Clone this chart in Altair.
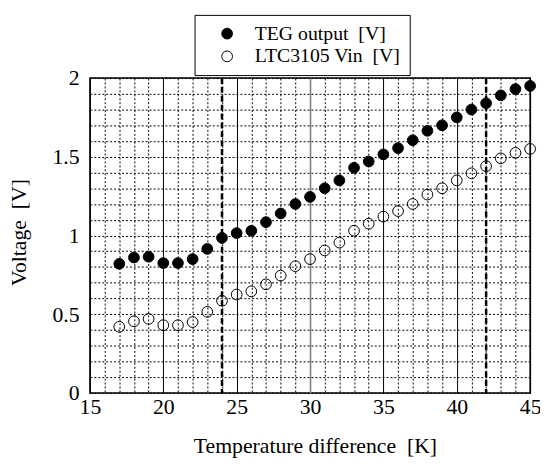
import altair as alt
import pandas as pd

# ---- data ----
dT = list(range(17, 46))
teg = [0.82, 0.86, 0.865, 0.825, 0.825, 0.85, 0.915, 0.985, 1.015, 1.03,
       1.085, 1.14, 1.2, 1.245, 1.3, 1.35, 1.43, 1.47, 1.515, 1.555,
       1.605, 1.665, 1.70, 1.75, 1.80, 1.84, 1.89, 1.93, 1.95]
ltc = [0.42, 0.455, 0.47, 0.43, 0.43, 0.45, 0.515, 0.585, 0.625, 0.645,
       0.69, 0.745, 0.805, 0.85, 0.905, 0.955, 1.03, 1.075, 1.12, 1.155,
       1.2, 1.26, 1.30, 1.35, 1.395, 1.44, 1.49, 1.525, 1.55]
series = ["TEG output\u00a0 [V]", "LTC3105 Vin\u00a0 [V]"]
x_ticks = list(range(15, 46))
y_ticks = [round(i * 0.1, 1) for i in range(21)]
marker_lines = [24, 42]

df = pd.DataFrame({
    "dT": dT * 2,
    "V": teg + ltc,
    "s": [series[0]] * len(dT) + [series[1]] * len(dT),
})
lines = pd.DataFrame({"x": marker_lines})

FONT = "Liberation Serif"

xscale = alt.Scale(domain=[15, 45], nice=False, zero=False)
yscale = alt.Scale(domain=[0, 2], nice=False)

xaxis = alt.Axis(
    values=x_ticks,
    labelExpr="datum.value % 5 === 0 ? datum.label : ''",
    grid=True,
    gridDash={"condition": {"test": "datum.value % 5 === 0", "value": []}, "value": [2, 2]},
    gridColor={"condition": {"test": "datum.value === 30", "value": "#808080"}, "value": "black"},
    gridWidth={"condition": {"test": "datum.value === 30", "value": 1.6}, "value": 1},
    gridOpacity=1,
    ticks=False, domain=False,
    labelFont=FONT, labelFontSize=22, labelColor="black", labelPadding=4,
    labelFlush=False,
    title="Temperature difference\u00a0 [K]",
    titleFont=FONT, titleFontSize=22, titleFontWeight="normal", titleColor="black",
    titleX=228, titleY=53, titleAlign="center", titleBaseline="middle",
)
yaxis = alt.Axis(
    values=y_ticks,
    format="~g",
    labelExpr="datum.value * 2 === round(datum.value * 2) ? datum.label : ''",
    grid=True, gridDash=[2, 2],
    gridColor="black", gridOpacity=1, gridWidth=1,
    ticks=False, domain=False,
    labelFont=FONT, labelFontSize=22, labelColor="black", labelPadding=11,
    labelFlush=False,
    title="Voltage\u00a0 [V]",
    titleFont=FONT, titleFontSize=22, titleFontWeight="normal", titleColor="black",
    titleX=-72, titleY=156, titleAngle=-90, titleAlign="center", titleBaseline="middle",
)

rules = alt.Chart(lines).mark_rule(strokeDash=[6, 3], strokeWidth=2.5, color="black").encode(
    x=alt.X("x:Q", scale=xscale, axis=xaxis)
)

points = alt.Chart(df).mark_point(filled=True, size=118, stroke="black", strokeWidth=1, opacity=1).encode(
    x=alt.X("dT:Q", scale=xscale, axis=xaxis),
    y=alt.Y("V:Q", scale=yscale, axis=yaxis),
    fill=alt.Fill(
        "s:N",
        scale=alt.Scale(domain=series, range=["black", "transparent"]),
        sort=series,
        legend=alt.Legend(
            title=None, orient="none", legendX=106, legendY=-64,
            strokeColor="black", fillColor="white", padding=9,
            symbolOffset=14, labelOffset=18, symbolSize=118,
            symbolStrokeColor="black", symbolStrokeWidth=1, symbolType="circle",
            labelFont=FONT, labelFontSize=20, labelColor="black", labelLimit=400,
            rowPadding=3,
        ),
    ),
)

chart = alt.layer(rules, points).properties(
    width=446, height=319,
    autosize=alt.AutoSizeParams(type="none"),
    padding={"left": 83, "top": 68, "right": 10, "bottom": 65},
    background="white",
).configure_view(stroke="black", strokeWidth=1.5)

chart.save("out.html", embed_options={"renderer": "svg", "actions": False})
